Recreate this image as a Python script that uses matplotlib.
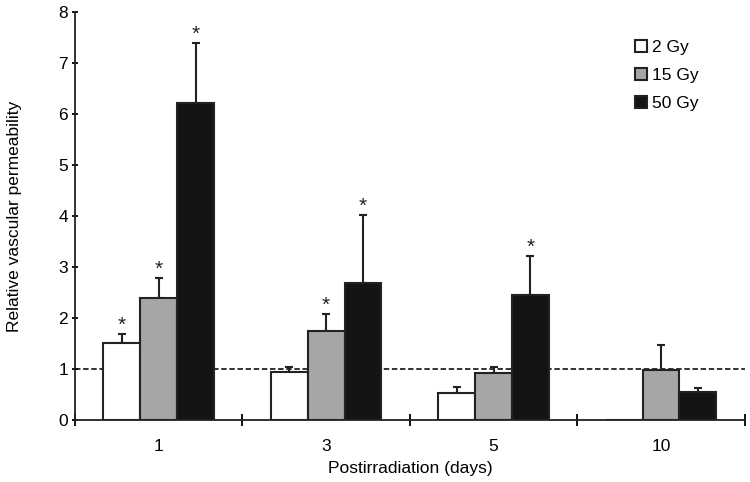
import numpy as np
from matplotlib import pyplot as plt

plt.rcParams['font.family'] = ['Liberation Sans', 'DejaVu Sans']

days = ["1", "3", "5", "10"]
doses = ["2 Gy", "15 Gy", "50 Gy"]
colors = ["white", "#a6a6a6", "#141414"]

# mean values per dose (rows) and day (columns)
values = [
    [1.51, 0.94, 0.53, 0.0],
    [2.39, 1.75, 0.92, 0.97],
    [6.21, 2.68, 2.45, 0.55],
]
# upper error (SD) per dose and day
errors = [
    [0.17, 0.10, 0.12, 0.0],
    [0.39, 0.33, 0.12, 0.50],
    [1.18, 1.34, 0.76, 0.08],
]
# significance stars (True = star above the error bar)
stars = [
    [True, False, False, False],
    [True, True, False, False],
    [True, True, True, False],
]

fig = plt.figure(figsize=(7.5, 4.82), dpi=100)
ax = fig.add_axes([0.1, 0.129, 0.893, 0.846])

x = np.arange(len(days))
width = 0.22
for i in range(len(doses)):
    pos = x + (i - 1) * width
    vals = np.array(values[i])
    errs = np.array(errors[i])
    ax.bar(pos, vals, width, color=colors[i], edgecolor="#222222", linewidth=1.5,
           label=doses[i], zorder=3)
    show = vals > 0
    ax.errorbar(pos[show], vals[show], yerr=[np.zeros(show.sum()), errs[show]],
                fmt="none", ecolor="#222222", elinewidth=1.5, capsize=3, capthick=1.5, zorder=2)
    for j in range(len(days)):
        if stars[i][j]:
            ax.text(pos[j], vals[j] + errs[j] + 0.17, "*", ha="center", va="center",
                    fontsize=15, color="#222222")

ax.axhline(1, color="#222222", linestyle=(0, (3, 1.5)), linewidth=1.3, zorder=1)

ax.set_xlim(-0.5, 3.5)
ax.set_ylim(0, 8)
ax.set_yticks(range(0, 9))
ax.set_xticks(x)
ax.set_xticklabels(days)
ax.set_xticks(np.arange(-0.5, 3.6, 1), minor=True)
ax.tick_params(axis="x", which="major", length=0, pad=14, labelsize=12.5)
ax.tick_params(axis="x", which="minor", length=8, width=1.3, direction="inout")
ax.tick_params(axis="y", length=4, width=1.3, direction="inout", labelsize=12.5, pad=3)
for side in ["top", "right"]:
    ax.spines[side].set_visible(False)
for side in ["left", "bottom"]:
    ax.spines[side].set_linewidth(1.3)
    ax.spines[side].set_color("#222222")

ax.set_xlabel("Postirradiation (days)", fontsize=12.5, labelpad=5)
ax.set_ylabel("Relative vascular permeability", fontsize=12.5, labelpad=26)

ax.legend(loc="upper right", bbox_to_anchor=(0.955, 0.97), frameon=False, fontsize=12.5,
          handlelength=0.7, handleheight=0.7, handletextpad=0.3, labelspacing=0.75)

fig.savefig("out.png", dpi=100)
